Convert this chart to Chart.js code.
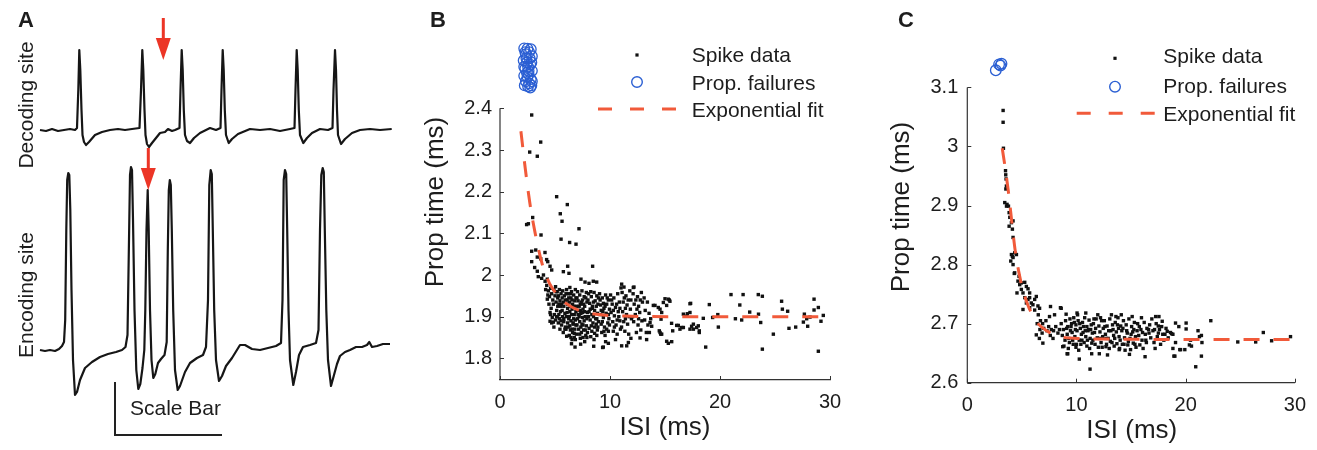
<!DOCTYPE html>
<html>
<head>
<meta charset="utf-8">
<script src="https://cdn.jsdelivr.net/npm/chart.js@4/dist/chart.umd.min.js"></script>
<style>
  html, body { margin: 0; padding: 0; background: #fff; }
  #wrap { position: relative; width: 1317px; height: 450px; overflow: hidden; }
  canvas { position: absolute; top: 0; }
</style>
</head>
<body>
<div id="wrap">
  <canvas id="panelA" width="420" height="450" style="left:0"></canvas>
  <canvas id="panelB" width="450" height="450" style="left:420px"></canvas>
  <canvas id="panelC" width="437" height="450" style="left:880px"></canvas>
</div>
<script>
// ---- data ----
// panel A: voltage traces, [time, voltage] (arbitrary units)
const decodingTrace = [[0,0],[6,-1],[12,1],[18,-1],[24,0],[30,1],[35,0],[37,2],[38.3,40],[39.3,80],[40.3,60],[41.5,20],[42.5,-5],[44,-12],[46,-15],[49,-12],[55,-5],[62,-2],[70,0],[78,1],[85,0],[92,1],[99.5,2],[101,40],[102.3,80],[103.3,60],[104.5,20],[105.5,-5],[107,-14],[109,-17],[112,-13],[116,-8],[120,-3],[125,-2],[128,1],[132,-1],[135,0],[139.5,2],[140.5,40],[141.7,80],[142.7,60],[143.8,20],[145,-5],[147,-11],[150,-13],[154,-8],[160,-3],[170,2],[176,0],[180.5,2],[181.5,40],[182.7,80],[183.7,60],[184.8,20],[186,-5],[188.7,-13],[192,-9],[198,-4],[210,1],[220,0],[230,1],[240,-1],[250,1],[254.5,2],[255.5,40],[256.7,80],[257.7,60],[258.8,20],[260,-5],[263.3,-13],[267,-8],[272,-3],[280,1],[288,0],[292.5,2],[293.5,40],[295,80],[296,60],[297,20],[298,-5],[301,-14],[305,-9],[312,-3],[320,0],[330,1],[340,0],[351.7,1]];
const encodingTrace = [[0,0],[5,-1],[10,0],[15,-1],[19,1],[22,4],[24,8],[25.2,30],[26.3,120],[27.2,170],[28.3,177],[29.3,175],[30.3,140],[31.5,60],[33,-10],[35,-45],[37,-42],[40,-30],[45,-18],[52,-12],[60,-7],[68,-4],[76,-2],[82,0],[85.5,3],[87.5,15],[89,110],[90,175],[91,183],[92,180],[93,130],[94.5,40],[96.3,-20],[98.3,-39],[100.3,-34],[102.5,-18],[104.3,0],[105.3,40],[106.5,120],[107.7,160],[108.7,120],[110,40],[111.5,-10],[113.3,-28],[115.3,-24],[118,-13],[121,-9],[124.5,-5],[126.7,8],[127.8,100],[128.8,160],[129.8,170],[130.8,165],[131.8,120],[133.2,40],[135,-20],[137.7,-40],[140,-36],[145,-22],[150,-13],[157,-8],[163,-5],[166,3],[168,50],[169.3,165],[170.7,180],[171.8,176],[172.8,120],[174.2,40],[176,-10],[179,-31],[182,-26],[186,-16],[192,-8],[200,5],[205,5],[212,1],[220,0],[228,2],[236,4],[241,7],[242.5,50],[243.7,170],[245,180],[246.2,176],[247.2,120],[248.5,40],[250,-10],[253.3,-35],[256,-22],[259,-5],[263,3],[270,5],[276,7],[278.5,20],[280,120],[281.3,175],[282.7,182],[283.8,178],[284.8,120],[286.3,40],[288,-10],[291,-36],[294,-25],[297,-14],[300,-6],[305,-2],[310,0],[316,3],[322,3],[327,5],[329.3,8],[332,3],[337,4],[343,6],[350,6]];
const scaleBar = [[75,-32],[75,-85],[182,-85]];
// arrows: [time, from, to]
const decodingArrows = [[123.3, 112, 70]];
const encodingArrows = [[108.3, 202, 160]];

// panel B: [ISI ms, prop time ms]
const spikesB = [
  [2.88,2.384],[3.70,2.319],[2.70,2.295],[3.39,2.285],
  [5.15,2.188],[6.12,2.169],[5.48,2.147],[5.64,2.129],[2.97,2.138],[2.58,2.123],[2.42,2.121],[7.18,2.111],[3.73,2.096],[5.55,2.086],[6.33,2.078],[6.91,2.074],
  [2.88,2.057],[3.25,2.060],[4.09,2.054],[3.39,2.043],[3.70,2.039],[4.24,2.037],[4.34,2.032],[2.88,2.032],[8.42,2.021],[3.15,2.018],[3.39,2.009],[4.55,2.021],[4.70,2.012],[6.15,2.021],[5.76,2.008],[6.27,2.004],
  [3.48,1.996],[3.79,1.992],[4.30,1.990],[7.36,1.990],[7.73,1.983],[8.09,1.980],[8.48,1.985],[8.79,1.983],[3.95,2.0],[4.1,1.985],[4.15,1.965],
  [11.06,1.978],[11.0,1.969],[11.27,1.971],[12.18,1.971],[12.12,1.970],
  [15.0,1.943],[15.39,1.940],[13.94,1.927],[14.39,1.922],[15.15,1.927],[14.85,1.934],[15.3,1.942],[15.45,1.937],
  [17.27,1.910],[16.97,1.901],[16.67,1.906],[17.33,1.932],[17.27,1.931],[19.03,1.929],[17.03,1.907],
  [16.21,1.879],[16.67,1.874],[17.27,1.870],[17.58,1.882],[18.03,1.878],[18.12,1.866],[18.48,1.896],[19.33,1.898],[18.70,1.827],
  [15.61,1.840],[15.15,1.841],[14.55,1.862],[14.70,1.858],[15.6,1.884],[15.7,1.866],[15.3,1.836],
  [19.8,1.905],[19.85,1.875],[21.0,1.953],[22.1,1.953],[21.8,1.928],[22.7,1.911],[21.4,1.895],[21.97,1.892],[23.48,1.953],[23.85,1.949],[23.5,1.906],[23.7,1.886],[23.85,1.822],[24.85,1.858],
  [25.6,1.937],[25.67,1.918],[26.15,1.913],[26.27,1.872],[26.88,1.875],[27.67,1.906],[27.88,1.895],[28.18,1.899],[27.58,1.887],[27.97,1.877],[28.55,1.942],[28.55,1.916],[28.94,1.922],[29.18,1.889],[28.94,1.817],[29.39,1.903],
  [14.55,1.918],[14.70,1.910],[14.64,1.894],[14.09,1.927],[13.64,1.886],[13.79,1.877],[13.58,1.862],
  [13.33,1.845],[12.73,1.849],[11.67,1.838],[11.06,1.830],[9.39,1.827],[9.85,1.836],[11.52,1.830],[14.48,1.866],[14.61,1.858],
  [6.82,1.827],[7.33,1.834],[8.52,1.829],[9.33,1.826],[6.0,1.870],[6.06,1.853],[4.55,1.889],[4.85,1.887],
  [16.06,1.879],[16.52,1.874],[16.36,1.870],[17.42,1.877],[17.58,1.870],[17.88,1.874],[18.12,1.862],
  [4.25,1.975],[4.4,1.962],[4.5,1.948],[4.6,1.968],[4.7,1.955],[4.8,1.94],[4.35,1.952],[4.9,1.965],[4.45,1.93],[4.65,1.92],[4.95,1.905],[4.75,1.898],[4.3,1.942],[4.85,1.93],[4.55,1.91],
  [5.05,1.972],[5.2,1.96],[5.3,1.95],[5.4,1.965],[5.55,1.955],[5.7,1.962],[5.85,1.95],[5.1,1.935],[5.25,1.925],[5.45,1.938],[5.6,1.93],[5.8,1.925],[5.95,1.94],[5.15,1.915],[5.35,1.905],[5.5,1.912],[5.7,1.9],[5.9,1.908],[5.05,1.892],[5.3,1.885],[5.6,1.88],[5.8,1.888],[5.45,1.87],[5.75,1.862],[5.95,1.875],[5.2,1.9],[5.65,1.945],
  [6.05,1.965],[6.2,1.955],[6.35,1.97],[6.5,1.96],[6.7,1.952],[6.85,1.965],[6.1,1.94],[6.3,1.935],[6.45,1.945],[6.6,1.93],[6.8,1.938],[6.95,1.925],[6.15,1.92],[6.35,1.912],[6.55,1.918],[6.75,1.905],[6.9,1.912],[6.05,1.9],[6.25,1.895],[6.45,1.89],[6.65,1.885],[6.85,1.892],[6.2,1.875],[6.4,1.868],[6.6,1.862],[6.8,1.87],[6.3,1.855],[6.55,1.845],[6.75,1.85],[6.95,1.858],[6.5,1.835],[6.65,1.882],[6.4,1.925],
  [7.05,1.96],[7.25,1.952],[7.45,1.962],[7.65,1.948],[7.85,1.958],[7.1,1.938],[7.3,1.93],[7.5,1.94],[7.7,1.925],[7.9,1.935],[7.15,1.915],[7.35,1.908],[7.55,1.918],[7.75,1.9],[7.95,1.91],[7.05,1.895],[7.25,1.888],[7.45,1.882],[7.65,1.89],[7.85,1.878],[7.15,1.87],[7.4,1.862],[7.6,1.868],[7.8,1.855],[7.3,1.848],[7.55,1.85],[7.95,1.862],[7.7,1.84],[7.2,1.9],[7.5,1.898],
  [8.05,1.955],[8.3,1.948],[8.55,1.958],[8.8,1.95],[8.15,1.932],[8.4,1.925],[8.65,1.938],[8.9,1.93],[8.1,1.912],[8.35,1.905],[8.6,1.915],[8.85,1.908],[8.2,1.892],[8.45,1.885],[8.7,1.895],[8.95,1.888],[8.1,1.872],[8.35,1.865],[8.6,1.875],[8.85,1.868],[8.25,1.852],[8.55,1.845],[8.8,1.855],[8.4,1.92],[8.75,1.882],
  [9.05,1.955],[9.3,1.945],[9.6,1.952],[9.85,1.94],[9.15,1.928],[9.45,1.92],[9.7,1.93],[9.95,1.918],[9.1,1.905],[9.4,1.898],[9.65,1.908],[9.9,1.895],[9.2,1.882],[9.5,1.875],[9.8,1.885],[9.25,1.862],[9.55,1.855],[9.85,1.865],[9.6,1.84],[9.35,1.912],
  [10.05,1.952],[10.35,1.945],[10.7,1.955],[10.2,1.93],[10.5,1.922],[10.85,1.935],[10.1,1.91],[10.4,1.902],[10.75,1.912],[10.25,1.888],[10.55,1.88],[10.9,1.89],[10.3,1.865],[10.65,1.858],[10.95,1.87],[10.5,1.845],[10.8,1.9],
  [11.1,1.958],[11.45,1.95],[11.8,1.962],[11.2,1.935],[11.55,1.928],[11.9,1.94],[11.15,1.912],[11.5,1.905],[11.85,1.918],[11.25,1.888],[11.6,1.882],[11.95,1.895],[11.35,1.865],[11.7,1.858],[11.9,1.848],[11.4,1.92],
  [12.1,1.955],[12.5,1.948],[12.85,1.958],[12.2,1.93],[12.6,1.925],[12.95,1.935],[12.3,1.905],[12.7,1.91],[12.15,1.888],[12.55,1.88],[12.9,1.89],[12.4,1.862],[12.8,1.868],
  [13.1,1.945],[13.4,1.935],[13.2,1.915],[13.55,1.908],[13.15,1.892],[13.45,1.88],[13.3,1.862],[13.7,1.895],
  [4.6,1.905],[4.7,1.885],[4.9,1.875],[5.0,1.95],[5.1,1.96],[5.25,1.945],[5.35,1.93],[5.5,1.925],[5.65,1.915],[5.8,1.895],[5.9,1.87],[5.4,1.895],[5.55,1.89],[5.15,1.9],[5.75,1.935],
  [6.0,1.955],[6.15,1.93],[6.25,1.945],[6.4,1.955],[6.55,1.94],[6.7,1.925],[6.9,1.945],[6.1,1.91],[6.3,1.9],[6.5,1.905],[6.7,1.895],[6.9,1.88],[6.15,1.885],[6.35,1.878],[6.55,1.87],[6.75,1.86],[6.45,1.85],[6.85,1.845],
  [7.0,1.945],[7.2,1.925],[7.4,1.935],[7.6,1.93],[7.8,1.945],[7.1,1.905],[7.3,1.915],[7.5,1.91],[7.7,1.912],[7.9,1.895],[7.0,1.88],[7.35,1.875],[7.55,1.88],[7.75,1.868],[7.25,1.858],[7.9,1.85],
  [8.0,1.94],[8.25,1.96],[8.5,1.935],[8.75,1.925],[8.95,1.945],[8.2,1.918],[8.5,1.9],[8.8,1.895],[8.05,1.9],[8.3,1.878],[8.6,1.86],[8.9,1.875],
  [9.1,1.94],[9.4,1.932],[9.75,1.945],[9.2,1.915],[9.55,1.925],[9.85,1.905],[9.3,1.888],[9.7,1.87],[9.45,1.865],[9.95,1.88],
  [10.15,1.94],[10.6,1.93],[10.3,1.915],[10.65,1.892],[10.4,1.875],[10.9,1.92],
  [11.3,1.945],[11.65,1.94],[11.4,1.895],[11.75,1.9],[11.05,1.875],
  [12.35,1.94],[12.75,1.94],[12.45,1.918],[12.05,1.9],[12.6,1.895]
];
const failuresB = [[2.2,2.544],[2.5,2.543],[2.8,2.542],[2.35,2.53],[2.65,2.535],[2.9,2.525],[2.15,2.515],[2.45,2.51],[2.75,2.505],[2.3,2.495],[2.6,2.49],[2.9,2.49],[2.2,2.478],[2.5,2.475],[2.8,2.47],[2.35,2.465],[2.65,2.46],[2.9,2.465],[2.25,2.455],[2.55,2.453],[2.85,2.455],[2.4,2.52],[2.7,2.52],[2.2,2.5],[2.55,2.5],[2.85,2.51],[2.3,2.535],[2.6,2.482],[2.75,2.45],[2.45,2.485]];
const fitB = [[1.9,2.345],[2.3,2.255],[2.7,2.175],[3.2,2.10],[3.9,2.02],[4.5,1.98],[5.1,1.956],[6,1.932],[7.3,1.914],[9,1.905],[12,1.901],[16,1.9],[20,1.9],[25,1.9],[30,1.9]];

// panel C
const spikesC = [
  [3.28,3.061],[3.28,3.041],[3.31,2.997],[3.5,2.959],[3.52,2.952],[3.55,2.945],[3.58,2.933],[3.53,2.928],[3.43,2.905],[3.64,2.902],[3.77,2.899],[3.59,2.899],[3.83,2.888],[3.89,2.880],[4.04,2.871],[3.83,2.865],[4.19,2.874],[4.13,2.860],[4.19,2.846],[4.04,2.817],[4.34,2.820],[4.19,2.812],[3.98,2.806],[4.5,2.817],[4.13,2.814],
  [4.34,2.786],[4.74,2.780],[4.64,2.772],[4.80,2.766],[4.95,2.769],[5.26,2.770],[5.41,2.763],[4.95,2.758],[4.55,2.752],[5.10,2.752],[4.19,2.8],[4.3,2.785],
  [5.26,2.744],[5.56,2.741],[5.71,2.744],[5.41,2.735],[5.86,2.735],[6.01,2.732],[6.32,2.746],[5.10,2.724],[5.71,2.727],[5.56,2.759],[5.71,2.752],
  [6.17,2.741],[6.47,2.730],[6.62,2.726],[7.62,2.729],[8.6,2.726],[7.99,2.715],
  [6.17,2.723],[6.5,2.715],[6.7,2.705],[6.4,2.700],[6.9,2.700],[6.65,2.690],[7.0,2.692],[7.2,2.705],[6.85,2.684],[7.3,2.688],[6.92,2.667],[6.6,2.675],[7.53,2.712],[7.45,2.695],[7.7,2.69],[7.9,2.688],[8.1,2.695],[7.6,2.68],[7.85,2.675],[8.3,2.684],[8.44,2.69],
  [6.32,2.681],[8.74,2.661],[9.2,2.649],[10.26,2.640],[11.24,2.623],[12.09,2.649],[12.84,2.647],[13.91,2.656],[12.7,2.661],
  [16.28,2.644],[16.64,2.684],[17.25,2.712],[17.49,2.696],[17.85,2.704],[18.31,2.687],[18.71,2.683],[19.07,2.701],[19.37,2.695],
  [19.01,2.645],[19.53,2.656],[19.92,2.656],[20.04,2.701],[20.04,2.691],[20.44,2.672],[20.34,2.664],[20.92,2.627],[21.13,2.688],[21.26,2.678],[21.44,2.645],[21.49,2.668],[22.3,2.705],[18.61,2.685],[18.83,2.682],[19.07,2.668],[18.83,2.658],[18.92,2.645],[19.46,2.656],[20.53,2.662],[21.44,2.680],
  [24.77,2.669],[26.41,2.669],[27.11,2.685],[27.87,2.671],[29.6,2.678],
  [8.53,2.727],[10.05,2.718],[9.14,2.649],[11.39,2.649],[13.61,2.712],[17.55,2.712],
  [8.6,2.7],[8.8,2.69],[9.0,2.705],[9.2,2.695],[9.4,2.708],[8.7,2.68],[8.95,2.672],[9.15,2.682],[9.35,2.668],[8.85,2.662],[9.25,2.658],[9.45,2.688],[9.05,2.716],
  [9.55,2.7],[9.75,2.71],[9.95,2.698],[10.15,2.705],[10.35,2.692],[9.6,2.685],[9.85,2.678],[10.05,2.688],[10.25,2.672],[10.45,2.682],[9.7,2.665],[9.95,2.66],[10.2,2.655],[10.4,2.665],[10.1,2.715],[9.9,2.69],
  [10.55,2.702],[10.75,2.71],[10.95,2.695],[11.15,2.706],[11.35,2.698],[10.6,2.685],[10.85,2.678],[11.05,2.688],[11.25,2.675],[11.45,2.684],[10.7,2.668],[10.95,2.662],[11.2,2.658],[11.4,2.667],[10.85,2.718],[11.1,2.69],
  [11.55,2.7],[11.8,2.708],[12.05,2.696],[12.3,2.705],[11.65,2.685],[11.9,2.676],[12.15,2.686],[12.4,2.678],[11.7,2.665],[12.0,2.66],[12.25,2.668],[12.45,2.692],[11.95,2.715],
  [12.55,2.705],[12.8,2.696],[13.05,2.708],[13.3,2.698],[12.65,2.682],[12.9,2.675],[13.15,2.688],[13.4,2.68],[12.75,2.665],[13.0,2.658],[13.25,2.668],[13.45,2.662],[13.2,2.715],
  [13.55,2.702],[13.8,2.71],[14.05,2.696],[14.3,2.705],[13.65,2.686],[13.9,2.678],[14.15,2.688],[14.4,2.676],[13.7,2.666],[13.95,2.658],[14.2,2.665],[14.45,2.655],[14.1,2.715],[13.85,2.692],
  [14.55,2.698],[14.8,2.708],[15.05,2.695],[15.3,2.702],[14.65,2.684],[14.9,2.675],[15.15,2.686],[15.4,2.678],[14.7,2.664],[14.95,2.656],[15.2,2.667],[15.45,2.66],[14.85,2.648],[15.1,2.712],
  [15.6,2.7],[15.9,2.69],[16.2,2.702],[16.45,2.692],[15.7,2.68],[16.0,2.672],[16.3,2.682],[15.8,2.664],[16.1,2.658],[16.4,2.668],[15.95,2.71],
  [16.7,2.698],[17.0,2.688],[17.3,2.7],[17.6,2.69],[17.9,2.682],[18.2,2.692],[16.8,2.676],[17.1,2.668],[17.4,2.678],[17.7,2.665],[18.0,2.672],[18.4,2.676],[17.2,2.658],[16.9,2.708],
  [9.1,2.692],[9.3,2.675],[9.5,2.695],[9.65,2.672],[9.8,2.702],[10.0,2.665],[10.3,2.7],[10.5,2.672],[10.65,2.695],[10.8,2.688],[11.0,2.672],[11.3,2.69],[11.5,2.672],[11.6,2.708],[11.75,2.692],[12.1,2.675],[12.2,2.71],[12.35,2.66],[12.6,2.695],[12.7,2.675],[12.95,2.688],[13.1,2.67],[13.35,2.69],[13.5,2.675],[13.75,2.698],[14.0,2.672],[14.25,2.692],[14.35,2.665],[14.6,2.688],[14.75,2.67],[15.0,2.682],[15.25,2.69],[15.35,2.665],[15.55,2.688],[15.75,2.695],[16.05,2.685],[16.35,2.672],[16.6,2.69],[17.15,2.69],[17.5,2.684],[17.8,2.695],[18.1,2.682]
];
const failuresC = [[2.61,3.129],[2.91,3.139],[3.13,3.140],[3.04,3.137]];
const fitC = [[3.2,2.997],[3.5,2.960],[3.8,2.918],[4.1,2.868],[4.4,2.822],[4.8,2.78],[5.2,2.75],[5.6,2.729],[6.3,2.704],[7.35,2.687],[8.5,2.678],[10,2.675],[13,2.674],[20,2.673],[30,2.673]];

const isiTicks = [0, 10, 20, 30];
const propTicksB = [1.8, 1.9, 2.0, 2.1, 2.2, 2.3, 2.4];
const propTicksC = [2.6, 2.7, 2.8, 2.9, 3.0, 3.1];
const legendLabels = ['Spike data', 'Prop. failures', 'Exponential fit'];

// ---- style ----
const FONT = '"Liberation Sans", Arial, Helvetica, sans-serif';
const INK = '#1d1d1d';
const FIT = '#f15a3a';
const BLUE = '#2b5fd3';

const toXY = arr => arr.map(([x, y]) => ({ x, y }));
const fmt = v => String(Math.round(v * 10) / 10);

// ---- panel A ----
const traceDecor = {
  id: 'traceDecor',
  afterDatasetsDraw(chart) {
    const { ctx, scales: { x, y1, y2 } } = chart;
    ctx.save();
    const drawArrow = (t, from, to, ys) => {
      const px = x.getPixelForValue(t);
      const top = ys.getPixelForValue(from);
      const tip = ys.getPixelForValue(to);
      ctx.fillStyle = '#ec3526';
      ctx.fillRect(px - 1.5, top, 3, tip - top - 18);
      ctx.beginPath();
      ctx.moveTo(px - 7.5, tip - 22);
      ctx.lineTo(px + 7.5, tip - 22);
      ctx.lineTo(px, tip);
      ctx.closePath();
      ctx.fill();
    };
    decodingArrows.forEach(([t, a, b]) => drawArrow(t, a, b, y1));
    encodingArrows.forEach(([t, a, b]) => drawArrow(t, a, b, y2));

    ctx.fillStyle = INK;
    ctx.font = `21px ${FONT}`;
    ctx.textAlign = 'left';
    ctx.textBaseline = 'alphabetic';
    ctx.fillText('Scale Bar', x.getPixelForValue(90), y2.getPixelForValue(-65));

    ctx.textAlign = 'center';
    [['Decoding site', 105], ['Encoding site', 295]].forEach(([txt, cy]) => {
      ctx.save();
      ctx.translate(33, cy);
      ctx.rotate(-Math.PI / 2);
      ctx.fillText(txt, 0, 0);
      ctx.restore();
    });

    ctx.font = `bold 22px ${FONT}`;
    ctx.textAlign = 'left';
    ctx.fillText('A', 18, 26.5);
    ctx.restore();
  }
};

new Chart(document.getElementById('panelA'), {
  type: 'line',
  data: {
    datasets: [
      { data: toXY(decodingTrace), yAxisID: 'y1', borderColor: '#161616', borderWidth: 2.2, borderJoinStyle: 'round', pointRadius: 0, tension: 0 },
      { data: toXY(encodingTrace), yAxisID: 'y2', borderColor: '#161616', borderWidth: 2.2, borderJoinStyle: 'round', pointRadius: 0, tension: 0 },
      { data: toXY(scaleBar), yAxisID: 'y2', borderColor: '#222', borderWidth: 2, pointRadius: 0, tension: 0 }
    ]
  },
  options: {
    responsive: false,
    animation: false,
    events: [],
    layout: { padding: 0 },
    scales: {
      x: { type: 'linear', display: false, min: -40, max: 380 },
      y1: { type: 'linear', display: false, min: -320, max: 130 },
      y2: { type: 'linear', display: false, min: -100, max: 350 }
    },
    plugins: { legend: { display: false }, tooltip: { enabled: false } }
  },
  plugins: [traceDecor]
});

// ---- panels B and C ----
function scatterPanel(id, p) {
  const decor = {
    id: 'decor',
    afterDraw(chart) {
      const { ctx, chartArea: area, scales: { x, y } } = chart;
      ctx.save();
      // y axis line stops at the top tick; the failures sit above it
      const yTop = y.getPixelForValue(p.yTicks[p.yTicks.length - 1]);
      ctx.strokeStyle = '#333';
      ctx.lineWidth = 1.2;
      ctx.beginPath(); ctx.moveTo(area.left, yTop); ctx.lineTo(area.left, area.bottom); ctx.stroke();
      // inward tick marks
      ctx.lineWidth = 1;
      x.ticks.forEach(t => {
        const px = Math.round(x.getPixelForValue(t.value)) + 0.5;
        ctx.beginPath(); ctx.moveTo(px, area.bottom); ctx.lineTo(px, area.bottom - 4); ctx.stroke();
      });
      y.ticks.forEach(t => {
        const py = Math.round(y.getPixelForValue(t.value)) + 0.5;
        ctx.beginPath(); ctx.moveTo(area.left, py); ctx.lineTo(area.left + 4, py); ctx.stroke();
      });

      ctx.fillStyle = INK;
      // axis titles
      ctx.font = `26px ${FONT}`;
      ctx.textAlign = 'center';
      ctx.textBaseline = 'middle';
      ctx.fillText('ISI (ms)', p.xTitle[0], p.xTitle[1]);
      ctx.save();
      ctx.translate(p.yTitle[0], p.yTitle[1]);
      ctx.rotate(-Math.PI / 2);
      ctx.fillText('Prop time (ms)', 0, 0);
      ctx.restore();

      // panel letter
      ctx.font = `bold 22px ${FONT}`;
      ctx.textAlign = 'left';
      ctx.textBaseline = 'alphabetic';
      ctx.fillText(p.letter, p.letterPos[0], p.letterPos[1]);

      // legend
      const L = p.legend;
      ctx.fillStyle = '#111';
      ctx.fillRect(L.markX - 1.6, L.rows[0] - 1.6, 3.2, 3.2);
      ctx.strokeStyle = BLUE;
      ctx.lineWidth = 1.4;
      ctx.beginPath(); ctx.arc(L.markX, L.rows[1], 5.3, 0, Math.PI * 2); ctx.stroke();
      ctx.strokeStyle = FIT;
      ctx.lineWidth = 3;
      ctx.setLineDash([14, 18]);
      ctx.beginPath(); ctx.moveTo(L.dash[0], L.rows[2]); ctx.lineTo(L.dash[1], L.rows[2]); ctx.stroke();
      ctx.setLineDash([]);
      ctx.fillStyle = INK;
      ctx.font = `21px ${FONT}`;
      legendLabels.forEach((txt, i) => ctx.fillText(txt, L.textX, L.base[i]));
      ctx.restore();
    }
  };

  return new Chart(document.getElementById(id), {
    type: 'scatter',
    data: {
      datasets: [
        { data: toXY(p.fit), showLine: true, borderColor: FIT, borderWidth: 3, borderDash: [16, 14],
          pointRadius: 0, cubicInterpolationMode: 'monotone', clip: false },
        { data: toXY(p.failures), pointStyle: 'circle', pointRadius: 5.3, borderColor: BLUE, borderWidth: 1.3,
          backgroundColor: 'rgba(0,0,0,0)', clip: false },
        { data: toXY(p.spikes), pointStyle: 'rect', pointRadius: 2.4, borderWidth: 0, backgroundColor: '#111', clip: false }
      ]
    },
    options: {
      responsive: false,
      animation: false,
      events: [],
      layout: { padding: { left: 0, right: p.padR, top: p.padT, bottom: 0 } },
      scales: {
        x: {
          type: 'linear', min: 0, max: 30,
          afterBuildTicks: s => { s.ticks = isiTicks.map(v => ({ value: v })); },
          afterFit: s => { s.height = p.xAxisH; },
          ticks: { font: { family: FONT, size: 20 }, color: INK, padding: p.xTickPad, maxRotation: 0, autoSkip: false, callback: v => fmt(v) },
          grid: { display: false, drawTicks: false },
          border: { color: '#333', width: 1.2 }
        },
        y: {
          type: 'linear', min: p.yMin, max: p.yMax,
          afterBuildTicks: s => { s.ticks = p.yTicks.map(v => ({ value: v })); },
          afterFit: s => { s.width = p.yAxisW; },
          ticks: { font: { family: FONT, size: 20 }, color: INK, padding: p.yTickPad, autoSkip: false, callback: v => fmt(v) },
          grid: { display: false, drawTicks: false },
          border: { display: false }
        }
      },
      plugins: { legend: { display: false }, tooltip: { enabled: false } }
    },
    plugins: [decor]
  });
}

scatterPanel('panelB', {
  spikes: spikesB, failures: failuresB, fit: fitB,
  yMin: 1.748, yMax: 2.57, yTicks: propTicksB,
  padR: 40, padT: 37.5, xAxisH: 70, yAxisW: 80, xTickPad: 10, yTickPad: 8,
  xTitle: [245, 428], yTitle: [16, 202], letter: 'B', letterPos: [10, 26.5],
  legend: { markX: 217, rows: [55, 82, 109], dash: [178, 257], textX: 271.7, base: [61.7, 90, 116.7] }
});

scatterPanel('panelC', {
  spikes: spikesC, failures: failuresC, fit: fitC,
  yMin: 2.6, yMax: 3.16, yTicks: propTicksC,
  padR: 20.3, padT: 52, xAxisH: 67.3, yAxisW: 87.3, xTickPad: 11, yTickPad: 9,
  xTitle: [251.7, 431], yTitle: [22, 207], letter: 'C', letterPos: [18, 27.3],
  legend: { markX: 235, rows: [58.3, 86.7, 113.3], dash: [196.7, 275], textX: 283.3, base: [63.3, 92.7, 120.7] }
});
</script>
</body>
</html>
